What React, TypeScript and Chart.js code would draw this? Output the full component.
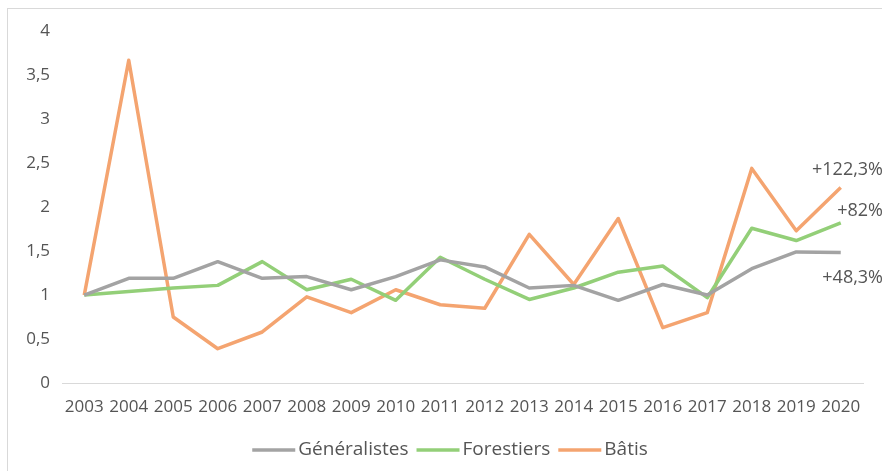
import React, { useEffect, useRef } from "react";
import { Chart, registerables } from "chart.js";

Chart.register(...registerables);

const years = ["2003","2004","2005","2006","2007","2008","2009","2010","2011","2012","2013","2014","2015","2016","2017","2018","2019","2020"];
const generalistes = [1, 1.19, 1.19, 1.38, 1.19, 1.21, 1.06, 1.21, 1.4, 1.32, 1.08, 1.11, 0.94, 1.12, 1.0, 1.3, 1.49, 1.483];
const forestiers = [1, 1.04, 1.08, 1.11, 1.38, 1.06, 1.18, 0.94, 1.43, 1.18, 0.95, 1.08, 1.26, 1.33, 0.97, 1.76, 1.62, 1.82];
const batis = [1, 3.67, 0.75, 0.39, 0.58, 0.98, 0.8, 1.06, 0.89, 0.85, 1.69, 1.12, 1.87, 0.63, 0.8, 2.44, 1.73, 2.223];
const endLabels = ["+48,3%", "+82%", "+122,3%"];
const yTicks = [0, 0.5, 1, 1.5, 2, 2.5, 3, 3.5, 4];

const GRAY = "#a3a3a3";
const GREEN = "#93cf78";
const ORANGE = "#f4a470";
const TEXT = "#555555";
const FONT = "'Open Sans', sans-serif";

// Writes the growth percentage next to the last point of each series.
const endLabelPlugin = {
  id: "endLabels",
  afterDatasetsDraw(chart: any) {
    const ctx = chart.ctx;
    const dys = [25, -12, -18];
    ctx.save();
    ctx.font = `18px ${FONT}`;
    ctx.fillStyle = TEXT;
    ctx.textAlign = "right";
    ctx.textBaseline = "middle";
    chart.data.datasets.forEach((ds: any, i: number) => {
      const meta = chart.getDatasetMeta(i);
      const pt = meta.data[meta.data.length - 1];
      ctx.fillText(endLabels[i], chart.width + 1, pt.y + dys[i]);
    });
    ctx.restore();
  },
};

// Compact legend under the axis: a short line swatch followed by the series name.
const lineLegendPlugin = {
  id: "lineLegend",
  afterDraw(chart: any) {
    const ctx = chart.ctx;
    const swatch = 43;
    const gap = 3;
    const itemGap = 8;
    ctx.save();
    ctx.font = `19px ${FONT}`;
    const items = chart.data.datasets.map((ds: any) => ({
      text: ds.label,
      color: ds.borderColor,
      w: swatch + gap + ctx.measureText(ds.label).width,
    }));
    const total = items.reduce((s: number, it: any) => s + it.w, 0) + itemGap * (items.length - 1);
    let x = chart.width / 2 + 5 - total / 2;
    const y = chart.height - 21;
    ctx.textBaseline = "middle";
    ctx.textAlign = "left";
    items.forEach((it: any) => {
      ctx.strokeStyle = it.color;
      ctx.lineWidth = 3.5;
      ctx.beginPath();
      ctx.moveTo(x, y);
      ctx.lineTo(x + swatch, y);
      ctx.stroke();
      ctx.fillStyle = TEXT;
      ctx.fillText(it.text, x + swatch + gap, y);
      x += it.w + itemGap;
    });
    ctx.restore();
  },
};

export default function App() {
  const ref = useRef<HTMLCanvasElement>(null);

  useEffect(() => {
    if (!ref.current) return;
    const chart = new Chart(ref.current, {
      type: "line",
      data: {
        labels: years,
        datasets: [
          { label: "Généralistes", data: generalistes, borderColor: GRAY, backgroundColor: GRAY },
          { label: "Forestiers", data: forestiers, borderColor: GREEN, backgroundColor: GREEN },
          { label: "Bâtis", data: batis, borderColor: ORANGE, backgroundColor: ORANGE },
        ].map((d) => ({
          ...d,
          borderWidth: 3.5,
          pointRadius: 0,
          tension: 0,
          borderJoinStyle: "round" as const,
        })),
      },
      options: {
        animation: false,
        responsive: false,
        layout: { padding: { left: 0, right: 19, top: 22, bottom: 46 } },
        scales: {
          x: {
            offset: true,
            grid: { display: false, drawTicks: false },
            border: { display: true, color: "#d9d9d9", width: 1 },
            ticks: {
              color: TEXT,
              font: { family: FONT, size: 17 },
              padding: 14,
              maxRotation: 0,
              autoSkip: false,
            },
            afterFit(scale: any) {
              scale.height = 42;
            },
          },
          y: {
            min: 0,
            max: 4,
            afterBuildTicks(scale: any) {
              scale.ticks = yTicks.map((v) => ({ value: v }));
            },
            grid: { display: false, drawTicks: false },
            border: { display: false },
            ticks: {
              color: TEXT,
              font: { family: FONT, size: 17 },
              padding: 12,
              callback: (v: any) => String(v).replace(".", ","),
            },
            afterFit(scale: any) {
              scale.width = 54;
            },
          },
        },
        plugins: {
          legend: { display: false },
          tooltip: { enabled: false },
        },
      },
      plugins: [endLabelPlugin, lineLegendPlugin],
    });
    return () => chart.destroy();
  }, []);

  return (
    <div
      style={{
        position: "fixed",
        left: 7,
        top: 8,
        width: 875,
        height: 463,
        borderTop: "1px solid #d9d9d9",
        borderLeft: "1px solid #d9d9d9",
        background: "#fff",
        overflow: "hidden",
      }}
    >
      <canvas ref={ref} width={874} height={462} style={{ display: "block" }} />
    </div>
  );
}
